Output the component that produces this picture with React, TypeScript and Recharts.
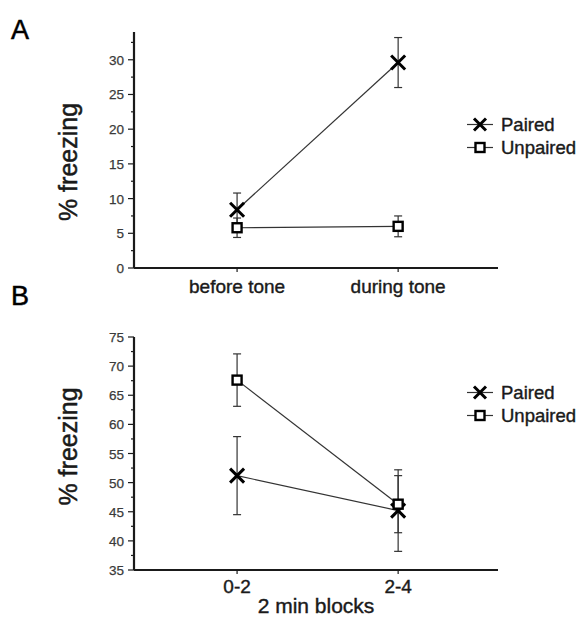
import React from "react";
import { LineChart, Line, XAxis, YAxis, ErrorBar, Legend, Label } from "recharts";

// panel A: freezing before / during tone
const categoriesA = ["before tone", "during tone"];
const pairedA = [8.4, 29.6];
const pairedErrA = [2.4, 3.6];
const unpairedA = [5.8, 6.0];
const unpairedErrA = [1.4, 1.5];
const ticksA = [0, 2.5, 5, 7.5, 10, 12.5, 15, 17.5, 20, 22.5, 25, 27.5, 30, 32.5];

// panel B: freezing in 2 min blocks
const categoriesB = ["0-2", "2-4"];
const pairedB = [51.2, 45.2];
const pairedErrB = [6.7, 7.0];
const unpairedB = [67.6, 46.3];
const unpairedErrB = [4.5, 4.9];
const ticksB = [35, 37.5, 40, 42.5, 45, 47.5, 50, 52.5, 55, 57.5, 60, 62.5, 65, 67.5, 70, 72.5, 75];

const FONT = "'Liberation Sans', Arial, Helvetica, sans-serif";
const INK = "#1a1a1a";
const MAJOR = 6;
const MINOR = 3;
const GAP = 3;

const buildRows = (
  cats: string[],
  paired: number[],
  pairedErr: number[],
  unpaired: number[],
  unpairedErr: number[]
) =>
  cats.map((c, i) => ({
    idx: i,
    name: c,
    paired: paired[i],
    pairedErr: pairedErr[i],
    unpaired: unpaired[i],
    unpairedErr: unpairedErr[i],
  }));

const dataA = buildRows(categoriesA, pairedA, pairedErrA, unpairedA, unpairedErrA);
const dataB = buildRows(categoriesB, pairedB, pairedErrB, unpairedB, unpairedErrB);

const XMark = ({ cx, cy, size = 7 }: { cx: number; cy: number; size?: number }) => (
  <g stroke="#000" strokeWidth={3} strokeLinecap="butt">
    <line x1={cx - size} y1={cy - size} x2={cx + size} y2={cy + size} />
    <line x1={cx - size} y1={cy + size} x2={cx + size} y2={cy - size} />
  </g>
);

const SquareMark = ({ cx, cy, size = 4.5 }: { cx: number; cy: number; size?: number }) => (
  <rect x={cx - size} y={cy - size} width={size * 2} height={size * 2} fill="#fff" stroke="#000" strokeWidth={2.4} />
);

const YTick = (props: any) => {
  const { x, y, payload } = props;
  const major = payload.value % 5 === 0;
  const ax = x + GAP + MAJOR;
  return (
    <g>
      <line x1={ax - (major ? MAJOR : MINOR)} x2={ax} y1={y} y2={y} stroke={INK} strokeWidth={1.2} />
      {major && (
        <text
          x={ax - MAJOR - 4}
          y={y}
          dy={5}
          textAnchor="end"
          fontSize={13.5}
          fill="#3a3a3a"
          stroke="#3a3a3a"
          strokeWidth={0.25}
          fontFamily={FONT}
        >
          {payload.value}
        </text>
      )}
    </g>
  );
};

const YLabel = (shift: number) => (props: any) => {
  const { viewBox, value } = props;
  const cx = viewBox.x + viewBox.width / 2;
  const cy = viewBox.y + viewBox.height / 2 + shift;
  return (
    <text
      transform={`translate(${cx},${cy}) rotate(-90)`}
      textAnchor="middle"
      dominantBaseline="central"
      fontSize={25}
      fill={INK}
      stroke={INK}
      strokeWidth={0.5}
      fontFamily={FONT}
    >
      {value}
    </text>
  );
};

const LegendBox = (props: any) => {
  const { payload } = props;
  return (
    <div style={{ fontFamily: FONT, fontSize: 18.5, color: INK, WebkitTextStroke: "0.4px #1a1a1a" }}>
      {(payload || []).map((entry: any) => (
        <div key={entry.value} style={{ display: "flex", alignItems: "center", height: 23 }}>
          <svg width={34} height={23}>
            <line x1={2} x2={28} y1={11.5} y2={11.5} stroke="#333" strokeWidth={1.2} />
            {entry.dataKey === "paired" ? (
              <XMark cx={15} cy={11.5} size={6} />
            ) : (
              <SquareMark cx={15} cy={11.5} size={4.5} />
            )}
          </svg>
          <span style={{ marginLeft: 2 }}>{entry.value}</span>
        </div>
      ))}
    </div>
  );
};

type PanelProps = {
  data: ReturnType<typeof buildRows>;
  cats: string[];
  yDomain: [number, number];
  yTicks: number[];
  height: number;
  top: number;
  bottom: number;
  xHeight: number;
  xTickMargin: number;
  xLabel?: string;
  labelShift: number;
  legendTop: number;
};

const Panel = ({ data, cats, yDomain, yTicks, height, top, bottom, xHeight, xTickMargin, xLabel, labelShift, legendTop }: PanelProps) => (
  <LineChart width={582} height={height} data={data} margin={{ top, right: 84, bottom, left: 2 }}>
    <XAxis
      dataKey="idx"
      type="number"
      domain={[-0.64, 1.62]}
      ticks={[0, 1]}
      tickFormatter={(v: number) => cats[v] ?? ""}
      height={xHeight}
      tickSize={4}
      tickMargin={xTickMargin}
      axisLine={{ stroke: INK, strokeWidth: 2.2 }}
      tickLine={{ stroke: INK, strokeWidth: 1.2 }}
      tick={{ fontSize: 19, fill: INK, stroke: INK, strokeWidth: 0.4, fontFamily: FONT }}
      interval={0}
    >
      {xLabel && (
        <Label
          value={xLabel}
          position="insideBottom"
          offset={2}
          fontSize={21}
          fill={INK}
          stroke={INK}
          strokeWidth={0.4}
          fontFamily={FONT}
        />
      )}
    </XAxis>
    <YAxis
      type="number"
      domain={yDomain}
      ticks={yTicks}
      interval={0}
      width={132}
      tickSize={MAJOR}
      tickMargin={GAP}
      tickLine={false}
      axisLine={{ stroke: INK, strokeWidth: 2.2 }}
      tick={<YTick />}
    >
      <Label value="% freezing" content={YLabel(labelShift)} />
    </YAxis>
    <Legend
      layout="vertical"
      align="center"
      verticalAlign="middle"
      content={<LegendBox />}
      wrapperStyle={{ left: 465, top: legendTop, width: 120 }}
    />
    <Line
      dataKey="paired"
      name="Paired"
      stroke="#333"
      strokeWidth={1.2}
      isAnimationActive={false}
      dot={(p: any) => <XMark key={`p-${p.index}`} cx={p.cx} cy={p.cy} />}
    >
      <ErrorBar dataKey="pairedErr" direction="y" width={4} stroke="#333" strokeWidth={1.2} />
    </Line>
    <Line
      dataKey="unpaired"
      name="Unpaired"
      stroke="#333"
      strokeWidth={1.2}
      isAnimationActive={false}
      dot={(p: any) => <SquareMark key={`u-${p.index}`} cx={p.cx} cy={p.cy} />}
    >
      <ErrorBar dataKey="unpairedErr" direction="y" width={4} stroke="#333" strokeWidth={1.2} />
    </Line>
  </LineChart>
);

const letterStyle: React.CSSProperties = {
  position: "absolute",
  left: 11,
  fontFamily: FONT,
  fontSize: 27,
  lineHeight: 1,
  color: "#000",
  WebkitTextStroke: "0.5px #000",
};

export default function App() {
  return (
    <div style={{ position: "absolute", left: 0, top: 0, width: 582, height: 618, background: "#fff", overflow: "hidden" }}>
      <div style={{ ...letterStyle, top: 17 }}>A</div>
      <div style={{ ...letterStyle, top: 283 }}>B</div>
      <div style={{ position: "absolute", left: 0, top: 0 }}>
        <Panel
          data={dataA}
          cats={categoriesA}
          yDomain={[0, 34]}
          yTicks={ticksA}
          height={300}
          top={32}
          bottom={2}
          xHeight={30}
          xTickMargin={8}
          labelShift={12}
          legendTop={113}
        />
      </div>
      <div style={{ position: "absolute", left: 0, top: 300 }}>
        <Panel
          data={dataB}
          cats={categoriesB}
          yDomain={[35, 75]}
          yTicks={ticksB}
          height={318}
          top={37}
          bottom={3}
          xHeight={45}
          xTickMargin={6}
          xLabel="2 min blocks"
          labelShift={-7}
          legendTop={81}
        />
      </div>
    </div>
  );
}
